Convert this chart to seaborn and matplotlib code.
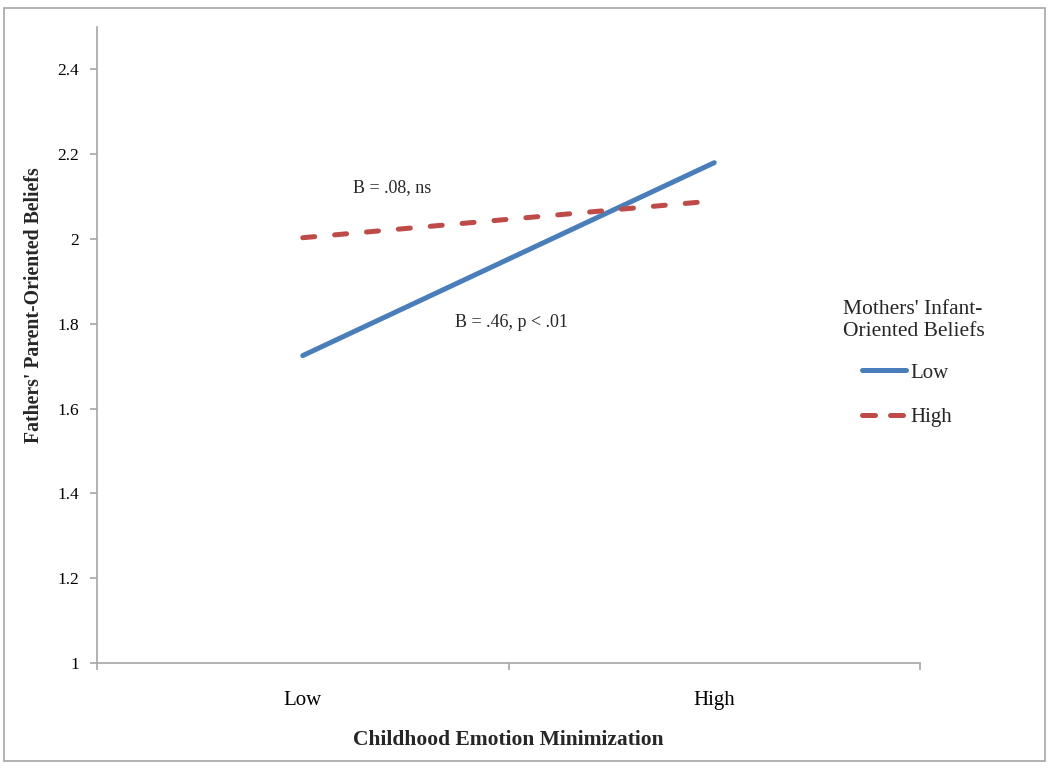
import matplotlib
matplotlib.use("Agg")
import matplotlib.pyplot as plt
import matplotlib.patches as mpatches
import seaborn as sns
import pandas as pd
import numpy as np

# ---- data ----
categories = ["Low", "High"]                 # Childhood Emotion Minimization
series_names = ["Low", "High"]               # Mothers' Infant-Oriented Beliefs
low_values = [1.725, 2.18]
high_values = [2.003, 2.09]
y_ticks = [1, 1.2, 1.4, 1.6, 1.8, 2, 2.2, 2.4]
y_tick_labels = ["1", "1.2", "1.4", "1.6", "1.8", "2", "2.2", "2.4"]

df = pd.DataFrame({
    "pos": list(range(len(categories))) * 2,
    "value": low_values + high_values,
    "group": [series_names[0]] * len(categories) + [series_names[1]] * len(categories),
})

sns.set_theme(style="white")
plt.rcParams["font.family"] = ["Liberation Serif", "DejaVu Serif"]

fig = plt.figure(figsize=(10.5, 7.69), dpi=100)
ax = fig.add_axes([97 / 1050, 1 - 663 / 769, (920 - 97) / 1050, (663 - 27) / 769])

blue = "#4A7EBB"
red = "#BE4B48"
LW = 3.6
DASH = (2.4, 4.0)
sns.lineplot(data=df, x="pos", y="value", hue="group", style="group",
             palette={"Low": blue, "High": red},
             dashes={"Low": "", "High": DASH},
             linewidth=LW, ax=ax, legend=False, sort=False)
for ln in ax.get_lines():
    ln.set_solid_capstyle("round")
    ln.set_dash_capstyle("round")

ax.set_xlim(-0.5, len(categories) - 0.5)
ax.set_ylim(1, 2.5)
ax.set_xticks(range(len(categories)))
ax.set_xticklabels(categories, fontsize=15)
ax.set_xticks(np.arange(-0.5, len(categories), 1.0), minor=True)
ax.set_yticks(y_ticks)
ax.set_yticklabels(y_tick_labels, fontsize=12.5)

spine_col = "#A6A6A6"
for s in ["top", "right"]:
    ax.spines[s].set_visible(False)
for s in ["left", "bottom"]:
    ax.spines[s].set_color(spine_col)
    ax.spines[s].set_linewidth(1.2)

ax.tick_params(axis="x", which="major", length=0, pad=20, colors="black")
ax.tick_params(axis="x", which="minor", length=5, width=1.2, color=spine_col, direction="out", bottom=True)
ax.tick_params(axis="y", which="major", length=5, width=1.2, color=spine_col, direction="out", left=True,
               pad=8, labelcolor="black")

ax.set_xlabel("Childhood Emotion Minimization", fontsize=15.5, fontweight="bold")
ax.xaxis.set_label_coords(0.5, -0.105)
ax.set_ylabel("Fathers' Parent-Oriented Beliefs", fontsize=14.2, fontweight="bold")
ax.yaxis.set_label_coords(-0.064, 0.563)

ax.text(0.358, 0.748, "B = .08, ns", transform=ax.transAxes, ha="center", va="center", fontsize=13)
ax.text(0.504, 0.536, "B = .46, p < .01", transform=ax.transAxes, ha="center", va="center", fontsize=13)

# legend
fig.text(843 / 1050, 1 - 300 / 769, "Mothers' Infant-\nOriented Beliefs", ha="left", va="top",
         fontsize=15.5, linespacing=1.25)
handles = [plt.Line2D([], [], color=blue, lw=LW, solid_capstyle="round"),
           plt.Line2D([], [], color=red, lw=LW, dashes=(2.6, 3.0), dash_capstyle="round")]
fig.legend(handles, series_names, loc="upper left", bbox_to_anchor=(862 / 1050, 1 - 363 / 769),
           frameon=False, fontsize=15, borderpad=0, borderaxespad=0, handlelength=2.1,
           handletextpad=0.2, labelspacing=1.2)

# outer border
fig.patches.append(mpatches.Rectangle((4 / 1050, 1 - 761 / 769), (1045 - 4) / 1050, (761 - 8) / 769,
                                      transform=fig.transFigure, fill=False, edgecolor="#A6A6A6",
                                      linewidth=1.2))

fig.savefig("out.png", dpi=100)
